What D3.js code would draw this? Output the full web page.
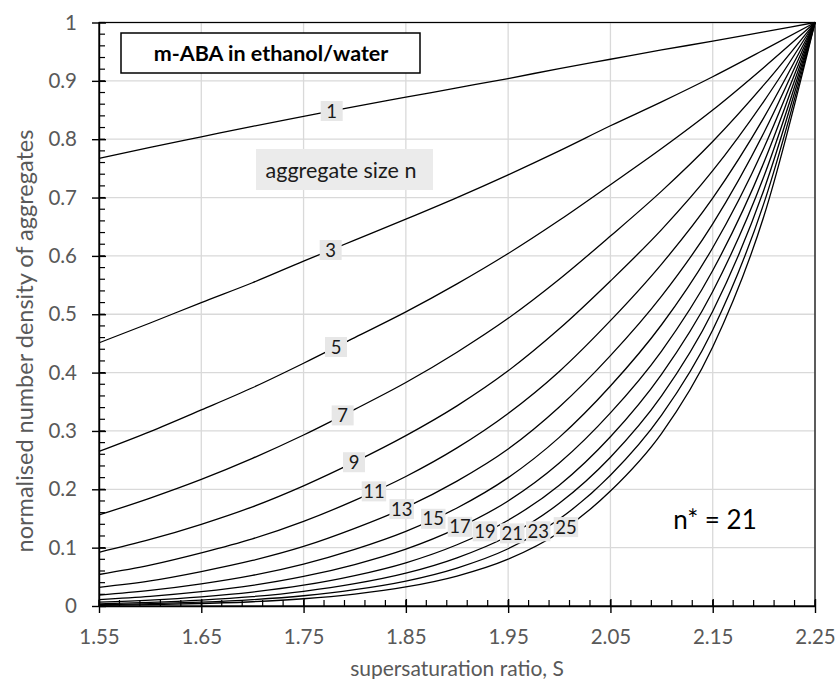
<!DOCTYPE html>
<html>
<head>
<meta charset="utf-8">
<script src="https://cdn.jsdelivr.net/npm/d3@7"></script>
<style>
body { margin: 0; background: #fff; }
svg { display: block; font-family: Lato, "Open Sans", sans-serif; }
</style>
</head>
<body>
<svg id="chart" width="835" height="679"></svg>
<script>
// supersaturation ratio S (x) where the curves were read
var S = [1.55, 1.60, 1.65, 1.70, 1.75, 1.80, 1.85, 1.90, 1.95, 2.00, 2.05, 2.10, 2.15, 2.20, 2.25];
// aggregate sizes n
var sizes = [1, 3, 5, 7, 9, 11, 13, 15, 17, 19, 21, 23, 25];
// normalised number density for each aggregate size
var n1  = [0.767, 0.786, 0.804, 0.822, 0.839, 0.856, 0.872, 0.888, 0.904, 0.921, 0.937, 0.953, 0.968, 0.984, 1];
var n3  = [0.451, 0.485, 0.520, 0.554, 0.591, 0.627, 0.663, 0.700, 0.739, 0.780, 0.823, 0.864, 0.907, 0.953, 1];
var n5  = [0.265, 0.299, 0.336, 0.374, 0.416, 0.460, 0.504, 0.552, 0.604, 0.661, 0.722, 0.784, 0.850, 0.923, 1];
var n7  = [0.156, 0.185, 0.217, 0.253, 0.293, 0.337, 0.383, 0.435, 0.493, 0.560, 0.634, 0.711, 0.796, 0.893, 1];
var n9  = [0.092, 0.114, 0.140, 0.170, 0.206, 0.247, 0.292, 0.343, 0.403, 0.475, 0.557, 0.645, 0.746, 0.865, 1];
var n11 = [0.054, 0.070, 0.091, 0.115, 0.145, 0.181, 0.222, 0.271, 0.330, 0.402, 0.489, 0.586, 0.699, 0.837, 1];
var n13 = [0.032, 0.043, 0.059, 0.078, 0.102, 0.133, 0.169, 0.214, 0.269, 0.341, 0.429, 0.531, 0.655, 0.811, 1];
var n15 = [0.0187, 0.0267, 0.0379, 0.0524, 0.0719, 0.0971, 0.128, 0.168, 0.220, 0.289, 0.377, 0.482, 0.614, 0.785, 1];
var n17 = [0.0110, 0.0165, 0.0245, 0.0353, 0.0506, 0.0711, 0.0974, 0.133, 0.180, 0.245, 0.331, 0.437, 0.575, 0.760, 1];
var n19 = [0.0065, 0.0102, 0.0158, 0.0239, 0.0356, 0.0521, 0.0741, 0.105, 0.147, 0.207, 0.290, 0.397, 0.539, 0.736, 1];
var n21 = [0.0038, 0.0063, 0.0102, 0.0161, 0.0251, 0.0382, 0.0563, 0.0826, 0.120, 0.176, 0.255, 0.360, 0.505, 0.713, 1];
var n23 = [0.0022, 0.0039, 0.0066, 0.0109, 0.0176, 0.0280, 0.0428, 0.0651, 0.0981, 0.149, 0.224, 0.327, 0.473, 0.690, 1];
var n25 = [0.0013, 0.0024, 0.0043, 0.0073, 0.0124, 0.0205, 0.0326, 0.0513, 0.0802, 0.126, 0.197, 0.296, 0.444, 0.668, 1];
// S at which each size label sits on its curve
var labelS = [1.7775, 1.7765, 1.7817, 1.7882, 1.7993, 1.8188, 1.8459, 1.8768, 1.9029, 1.9273, 1.954, 1.9794, 2.0065];
// tick values
var xTicks = [1.55, 1.65, 1.75, 1.85, 1.95, 2.05, 2.15, 2.25];
var yTicks = [0, 0.1, 0.2, 0.3, 0.4, 0.5, 0.6, 0.7, 0.8, 0.9, 1];

var densities = [n1, n3, n5, n7, n9, n11, n13, n15, n17, n19, n21, n23, n25];
var series = sizes.map(function(n, i) {
	return { n: n, values: S.map(function(s, j) { return { s: s, v: densities[i][j] }; }) };
});

var margin = {top: 22.5, right: 20, bottom: 73, left: 99};
var width = 835 - margin.left - margin.right;
var height = 679 - margin.top - margin.bottom;

var svg = d3.select("#chart");
var g = svg.append("g").attr("transform", "translate(" + margin.left + "," + margin.top + ")");

var x = d3.scaleLinear().domain([1.55, 2.25]).range([0, width]);
var y = d3.scaleLinear().domain([0, 1]).range([height, 0]);

// gridlines
g.append("g").selectAll("line").data(xTicks).enter().append("line")
	.attr("x1", d => x(d)).attr("x2", d => x(d))
	.attr("y1", 0).attr("y2", height)
	.style("stroke", "#d9d9d9").style("stroke-width", 1.3);
g.append("g").selectAll("line").data(yTicks).enter().append("line")
	.attr("x1", 0).attr("x2", width)
	.attr("y1", d => y(d)).attr("y2", d => y(d))
	.style("stroke", "#d9d9d9").style("stroke-width", 1.3);

// plot border
g.append("rect").attr("width", width).attr("height", height)
	.style("fill", "none").style("stroke", "#000").style("stroke-width", 1.2);

// minor ticks (inside)
var xMinor = d3.range(0, 36).map(i => 1.55 + i * 0.02);
var yMinor = d3.range(0, 51).map(i => i * 0.02);
g.append("g").selectAll("line").data(xMinor).enter().append("line")
	.attr("x1", d => x(d)).attr("x2", d => x(d))
	.attr("y1", height).attr("y2", height - 6)
	.style("stroke", "#000").style("stroke-width", 1.2);
g.append("g").selectAll("line").data(yMinor).enter().append("line")
	.attr("x1", 0).attr("x2", 6)
	.attr("y1", d => y(d)).attr("y2", d => y(d))
	.style("stroke", "#000").style("stroke-width", 1.2);

// axes
var xAxis = g.append("g").attr("transform", "translate(0," + height + ")")
	.call(d3.axisBottom(x).tickValues(xTicks).tickFormat(d3.format(".2f")).tickSize(7).tickSizeOuter(0).tickPadding(16));
var yAxis = g.append("g")
	.call(d3.axisLeft(y).tickValues(yTicks).tickFormat(d => d === 0 || d === 1 ? d : d3.format(".1f")(d)).tickSize(7).tickSizeOuter(0).tickPadding(15));
xAxis.selectAll(".tick line").attr("y1", -7).attr("y2", 7);
yAxis.selectAll(".tick line").attr("x1", 7).attr("x2", -7);
[xAxis, yAxis].forEach(function(a) {
	a.selectAll("line, path").style("stroke", "#000").style("stroke-width", 1.4);
	a.selectAll("text").style("font-family", "Lato, sans-serif").style("font-size", "20.5px").style("fill", "#595959");
});

// curves
var line = d3.line().x(d => x(d.s)).y(d => y(d.v)).curve(d3.curveMonotoneX);
g.append("g").selectAll("path").data(series).enter().append("path")
	.attr("d", d => line(d.values))
	.style("fill", "none").style("stroke", "#000").style("stroke-width", 1.3);

// size labels on the curves
function valueAt(vals, s) {
	var j = Math.min(d3.bisectRight(S, s) - 1, S.length - 2);
	var t = (s - S[j]) / (S[j + 1] - S[j]);
	return vals[j] + t * (vals[j + 1] - vals[j]);
}
var labels = g.append("g").selectAll("g").data(series).enter().append("g")
	.attr("transform", (d, i) => "translate(" + x(labelS[i]) + "," + y(valueAt(densities[i], labelS[i])) + ")");
labels.append("text")
	.attr("text-anchor", "middle").attr("dy", "0.36em")
	.style("font-size", "18.5px").style("fill", "#1a1a1a")
	.text(d => d.n);
labels.each(function() {
	var gg = d3.select(this);
	var bb = gg.select("text").node().getBBox();
	var w = Math.max(bb.width + 3, 22);
	gg.insert("rect", "text").attr("x", -w / 2).attr("y", -10).attr("width", w).attr("height", 20)
		.style("fill", "#e7e7e7");
});

// title box
svg.append("rect").attr("x", 121).attr("y", 33).attr("width", 299).attr("height", 40)
	.style("fill", "#fff").style("stroke", "#000").style("stroke-width", 1.5);
svg.append("text").attr("x", 271).attr("y", 53).attr("dy", "0.36em").attr("text-anchor", "middle")
	.style("font-size", "21.5px").style("font-weight", "bold").style("fill", "#000")
	.text("m-ABA in ethanol/water");

// aggregate size note
svg.append("rect").attr("x", 256).attr("y", 149).attr("width", 177).attr("height", 41)
	.style("fill", "#ebebeb");
svg.append("text").attr("x", 341).attr("y", 170).attr("dy", "0.36em").attr("text-anchor", "middle")
	.style("font-size", "21.5px").style("fill", "#1a1a1a")
	.text("aggregate size n");

// critical size note
svg.append("text").attr("x", 715).attr("y", 520).attr("dy", "0.36em").attr("text-anchor", "middle")
	.style("font-size", "26px").style("fill", "#000")
	.text("n* = 21");

// axis titles
svg.append("text").attr("x", 457).attr("y", 668).attr("dy", "0.36em")
	.attr("text-anchor", "middle").style("font-size", "21px").style("fill", "#595959")
	.text("supersaturation ratio, S");
svg.append("text").attr("transform", "translate(25,341) rotate(-90)")
	.attr("dy", "0.36em").attr("text-anchor", "middle").style("font-size", "23.5px").style("fill", "#595959")
	.text("normalised number density of aggregates");
</script>
</body>
</html>
